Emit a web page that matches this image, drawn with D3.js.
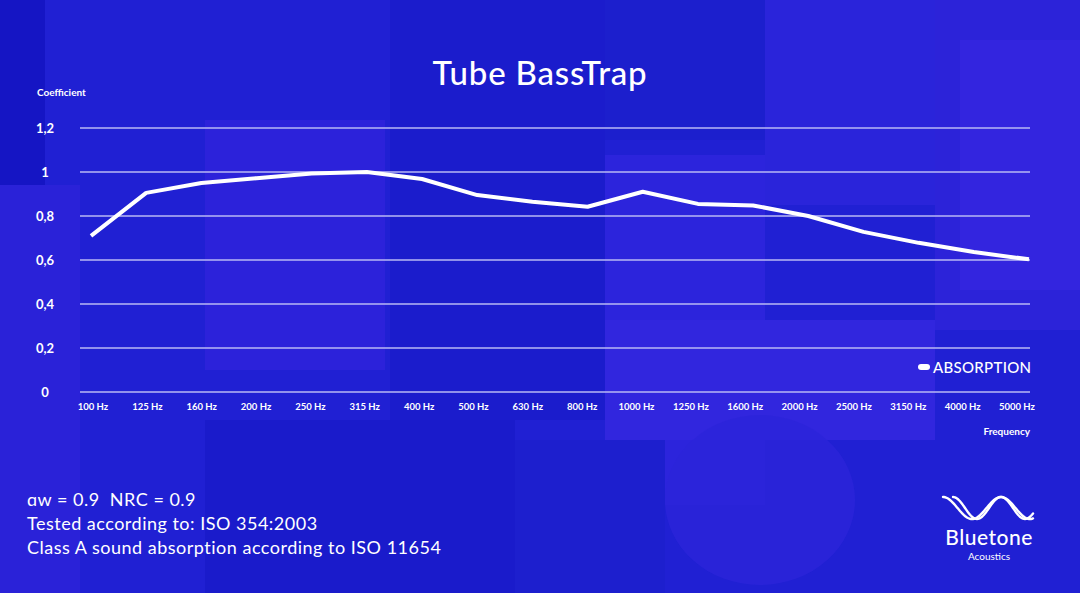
<!DOCTYPE html>
<html>
<head>
<meta charset="utf-8">
<title>Tube BassTrap</title>
<script src="https://cdn.jsdelivr.net/npm/d3@7/dist/d3.min.js"></script>
<style>
  html, body { margin: 0; padding: 0; background: #1f1fd2; }
  svg { display: block; font-family: "Lato", "Noto Sans", sans-serif; }
  .pre { white-space: pre; }
</style>
</head>
<body>
<svg id="chart" width="1080" height="593"></svg>
<script>
// frequency bands (1/3 octave) and measured absorption coefficient
var bands = ["100 Hz", "125 Hz", "160 Hz", "200 Hz", "250 Hz", "315 Hz", "400 Hz", "500 Hz", "630 Hz",
             "800 Hz", "1000 Hz", "1250 Hz", "1600 Hz", "2000 Hz", "2500 Hz", "3150 Hz", "4000 Hz", "5000 Hz"];
var absorption = [0.71, 0.905, 0.95, 0.972, 0.993, 1.0, 0.968, 0.895, 0.865,
                  0.842, 0.91, 0.855, 0.848, 0.80, 0.728, 0.678, 0.636, 0.603];
var yTicks = [0, 0.2, 0.4, 0.6, 0.8, 1, 1.2];
var notes = ["\u0251w = 0.9  NRC = 0.9",
             "Tested according to: ISO 354:2003",
             "Class A sound absorption according to ISO 11654"];

var W = 1080, H = 593;
var svg = d3.select("#chart");

// background patches, roughly like the photo
var patches = [
  [0, 0, 1080, 593, "#2020d3"],
  [0, 0, 45, 185, "#1515c4"],
  [0, 185, 80, 408, "#2a22d8"],
  [205, 120, 180, 250, "#2c22da"],
  [390, 0, 215, 420, "#1b1ccc"],
  [605, 0, 180, 140, "#1c1fcd"],
  [605, 155, 160, 350, "#2c24dc"],
  [605, 320, 330, 120, "#3126de"],
  [765, 0, 175, 205, "#2a24da"],
  [935, 0, 145, 330, "#2c23d9"],
  [960, 40, 120, 250, "#3325df"],
  [205, 420, 310, 173, "#1a1bcb"],
  [515, 440, 150, 153, "#1d1fce"]
];
svg.append("g").selectAll("rect")
  .data(patches)
  .enter()
  .append("rect")
  .attr("x", function(d) { return d[0]; })
  .attr("y", function(d) { return d[1]; })
  .attr("width", function(d) { return d[2]; })
  .attr("height", function(d) { return d[3]; })
  .attr("fill", function(d) { return d[4]; });
svg.append("ellipse").attr("cx", 760).attr("cy", 500).attr("rx", 95).attr("ry", 85)
  .attr("fill", "#2c24da").attr("opacity", 0.8);

var x = d3.scalePoint().domain(bands).range([91, 1029]);
var xLab = d3.scalePoint().domain(bands).range([93, 1017]);
var y = d3.scaleLinear().domain([0, 1.2]).range([392, 128]);

// grid lines
svg.append("g").selectAll("line")
  .data(yTicks)
  .enter()
  .append("line")
  .attr("x1", 80).attr("x2", 1030)
  .attr("y1", function(d) { return y(d); })
  .attr("y2", function(d) { return y(d); })
  .attr("stroke", "#b9b8f4")
  .attr("stroke-width", 1.6);

// y labels
svg.append("g").selectAll("text")
  .data(yTicks)
  .enter()
  .append("text")
  .attr("x", 45)
  .attr("y", function(d) { return y(d); })
  .attr("dy", "0.36em")
  .attr("text-anchor", "middle")
  .attr("fill", "#fff")
  .attr("font-size", 13)
  .attr("font-weight", 700)
  .text(function(d) { return String(d).replace(".", ","); });

svg.append("text").attr("x", 37).attr("y", 96)
  .attr("fill", "#fff").attr("font-size", 10).attr("font-weight", 700)
  .text("Coefficient");

// x labels
svg.append("g").selectAll("text")
  .data(bands)
  .enter()
  .append("text")
  .attr("x", function(d) { return xLab(d); })
  .attr("y", 410)
  .attr("text-anchor", "middle")
  .attr("fill", "#fff")
  .attr("font-size", 9.5)
  .attr("font-weight", 700)
  .text(function(d) { return d; });

svg.append("text").attr("x", 1030).attr("y", 435)
  .attr("text-anchor", "end")
  .attr("fill", "#fff").attr("font-size", 10).attr("font-weight", 700)
  .text("Frequency");

// the absorption line
var line = d3.line()
  .x(function(d, i) { return x(bands[i]); })
  .y(function(d) { return y(d); });
svg.append("path")
  .datum(absorption)
  .attr("d", line)
  .attr("fill", "none")
  .attr("stroke", "#fff")
  .attr("stroke-width", 4)
  .attr("stroke-linejoin", "round");

// legend
svg.append("rect").attr("x", 918).attr("y", 364).attr("width", 12).attr("height", 6).attr("rx", 3)
  .attr("fill", "#fff");
svg.append("text").attr("x", 933).attr("y", 372.5)
  .attr("fill", "#fff").attr("font-size", 15).attr("font-weight", 500)
  .attr("letter-spacing", 0.3)
  .text("ABSORPTION");

// title
svg.append("text").attr("x", 540).attr("y", 85)
  .attr("text-anchor", "middle")
  .attr("fill", "#fff").attr("font-size", 33).attr("font-weight", 500)
  .attr("letter-spacing", 0.8)
  .text("Tube BassTrap");

// notes bottom left
svg.append("g").selectAll("text")
  .data(notes)
  .enter()
  .append("text")
  .attr("class", "pre")
  .attr("x", 27)
  .attr("y", function(d, i) { return 506 + i * 24; })
  .attr("fill", "#fff")
  .attr("font-size", 18)
  .attr("letter-spacing", 0.5)
  .text(function(d) { return d; });

// logo: two crossing waves
var logo = svg.append("g").attr("transform", "translate(943,497)");
var wave = d3.line();
[[0, 58], [10, 48]].forEach(function(w) {
  var pts = d3.range(w[0], 91, 1).map(function(t) {
    return [t, 11 - 11 * Math.cos((t - w[0]) / w[1] * Math.PI * 2)];
  });
  logo.append("path").attr("d", wave(pts))
    .attr("fill", "none").attr("stroke", "#fff").attr("stroke-width", 2.4)
    .attr("stroke-linecap", "round");
});
svg.append("text").attr("x", 989).attr("y", 545)
  .attr("text-anchor", "middle")
  .attr("fill", "#fff").attr("font-size", 21).attr("font-weight", 500)
  .attr("letter-spacing", 0.5)
  .text("Bluetone");
svg.append("text").attr("x", 989).attr("y", 560)
  .attr("text-anchor", "middle")
  .attr("fill", "#fff").attr("font-size", 10)
  .text("Acoustics");
</script>
</body>
</html>
